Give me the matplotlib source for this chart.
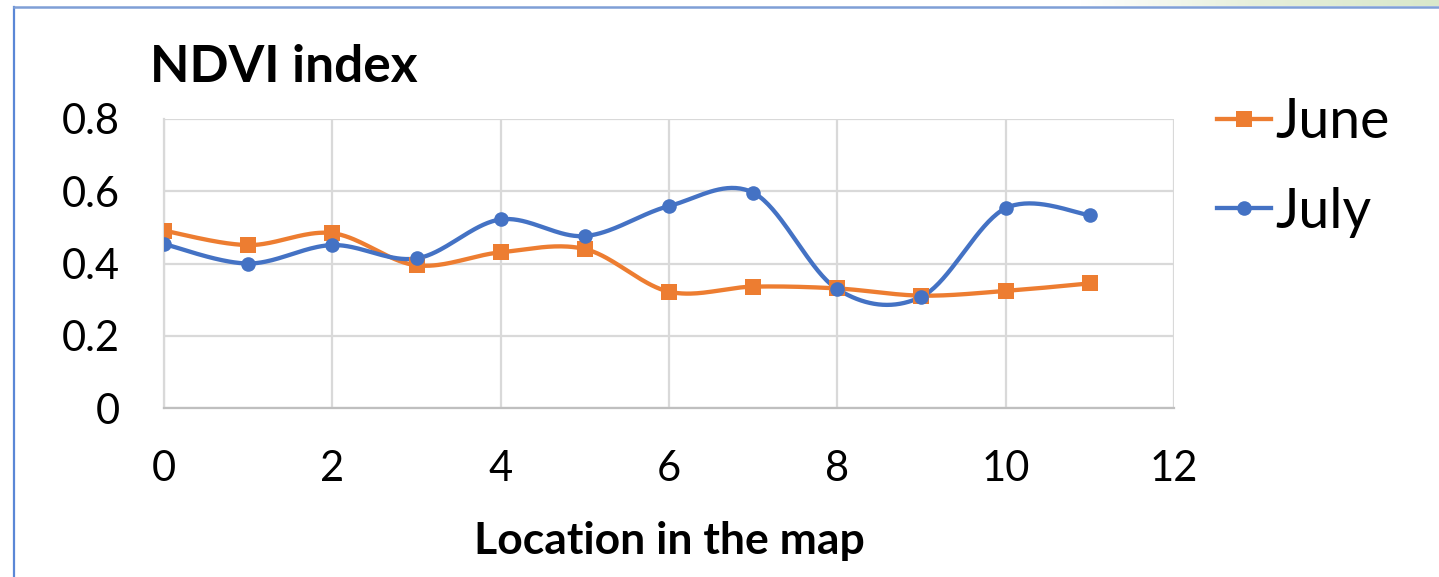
import numpy as np
import matplotlib
matplotlib.use("Agg")
import matplotlib.pyplot as plt
from matplotlib.lines import Line2D
from matplotlib.colors import LinearSegmentedColormap

plt.rcParams['font.family'] = ['Lato', 'DejaVu Sans']

# Data
locations = [0, 1, 2, 3, 4, 5, 6, 7, 8, 9, 10, 11]
ndvi_june = [0.491, 0.451, 0.484, 0.395, 0.431, 0.440, 0.322, 0.336, 0.331, 0.311, 0.324, 0.345]
ndvi_july = [0.454, 0.400, 0.451, 0.414, 0.522, 0.476, 0.559, 0.596, 0.329, 0.308, 0.553, 0.534]
series_names = ["June", "July"]
x_ticks = [0, 2, 4, 6, 8, 10, 12]
y_ticks = [0, 0.2, 0.4, 0.6, 0.8]
y_tick_labels = ["0", "0.2", "0.4", "0.6", "0.8"]

ORANGE = "#ED7D31"
BLUE = "#4472C4"
GRID = "#D9D9D9"


def smooth_curve(x, y, n=40):
    """Catmull-Rom style cubic Bezier through all points (spreadsheet 'smoothed line')."""
    x = np.asarray(x, float)
    y = np.asarray(y, float)
    px = np.concatenate([[x[0]], x, [x[-1]]])
    py = np.concatenate([[y[0]], y, [y[-1]]])
    xs, ys = [], []
    t = np.linspace(0, 1, n)
    for i in range(1, len(px) - 2):
        p0 = np.array([px[i], py[i]])
        p3 = np.array([px[i + 1], py[i + 1]])
        c1 = p0 + (np.array([px[i + 1], py[i + 1]]) - np.array([px[i - 1], py[i - 1]])) / 6
        c2 = p3 - (np.array([px[i + 2], py[i + 2]]) - np.array([px[i], py[i]])) / 6
        b = ((1 - t) ** 3)[:, None] * p0 + (3 * (1 - t) ** 2 * t)[:, None] * c1 \
            + (3 * (1 - t) * t ** 2)[:, None] * c2 + (t ** 3)[:, None] * p3
        xs.append(b[:, 0])
        ys.append(b[:, 1])
    return np.concatenate(xs), np.concatenate(ys)


fig = plt.figure(figsize=(14.39, 5.77), dpi=100)
ax = fig.add_axes([164 / 1439, 1 - 408 / 577, (1174 - 164) / 1439, (408 - 119) / 577])

for vals, color, marker, ms in [(ndvi_june, ORANGE, 's', 12), (ndvi_july, BLUE, 'o', 10.5)]:
    sx, sy = smooth_curve(locations, vals)
    ax.plot(sx, sy, color=color, lw=3.1, solid_capstyle='round', zorder=3)
    ax.plot(locations, vals, linestyle='none', marker=marker, ms=ms,
            color=color, markeredgewidth=0, zorder=4)

ax.set_xlim(0, 12)
ax.set_ylim(0, 0.8)
ax.set_xticks(x_ticks)
ax.set_yticks(y_ticks)
ax.set_yticklabels(y_tick_labels)
ax.grid(True, color=GRID, lw=1.6, zorder=0)
ax.set_axisbelow(True)
for side in ['top', 'right']:
    ax.spines[side].set_visible(False)
ax.spines['left'].set_color(GRID)
ax.spines['left'].set_linewidth(1.6)
ax.spines['bottom'].set_color("#BFBFBF")
ax.spines['bottom'].set_linewidth(1.6)
ax.tick_params(axis='both', length=0, labelsize=30)
ax.tick_params(axis='x', pad=30)
ax.tick_params(axis='y', pad=32)

ax.set_xlabel("Location in the map", fontsize=32, fontweight='bold', labelpad=24)
fig.text(150 / 1439, 1 - 82 / 577, "NDVI index", fontsize=37, fontweight='bold',
         ha='left', va='baseline')

handles = [
    Line2D([], [], color=ORANGE, lw=3.1, marker='s', ms=12, markeredgewidth=0),
    Line2D([], [], color=BLUE, lw=3.1, marker='o', ms=10.5, markeredgewidth=0),
]
fig.legend(handles, series_names, loc='upper left', bbox_to_anchor=(1217 / 1439, 1 - 97 / 577),
           frameon=False, fontsize=40, handlelength=0.97, handletextpad=0.08,
           labelspacing=0.7, borderaxespad=0, borderpad=0)

# chart frame and decorative band along the top edge
fig.add_artist(Line2D([14 / 1439, 14 / 1439], [0, 1 - 7 / 577], color="#5A87D6", lw=1.6,
                      transform=fig.transFigure))
fig.add_artist(Line2D([14 / 1439, 1], [1 - 7 / 577, 1 - 7 / 577], color="#7F9FD6", lw=1.8,
                      transform=fig.transFigure))
grad = np.linspace(0, 1, 256)[None, :]
band = fig.add_axes([1080 / 1439, 1 - 6 / 577, 1 - 1080 / 1439, 6 / 577])
cmap = LinearSegmentedColormap.from_list("band", ["#FFFFFF", "#E6EFDA", "#D9E8CB"])
band.imshow(grad, aspect='auto', cmap=cmap, extent=[0, 1, 0, 1])
band.set_axis_off()

fig.savefig("out.png", dpi=100)
